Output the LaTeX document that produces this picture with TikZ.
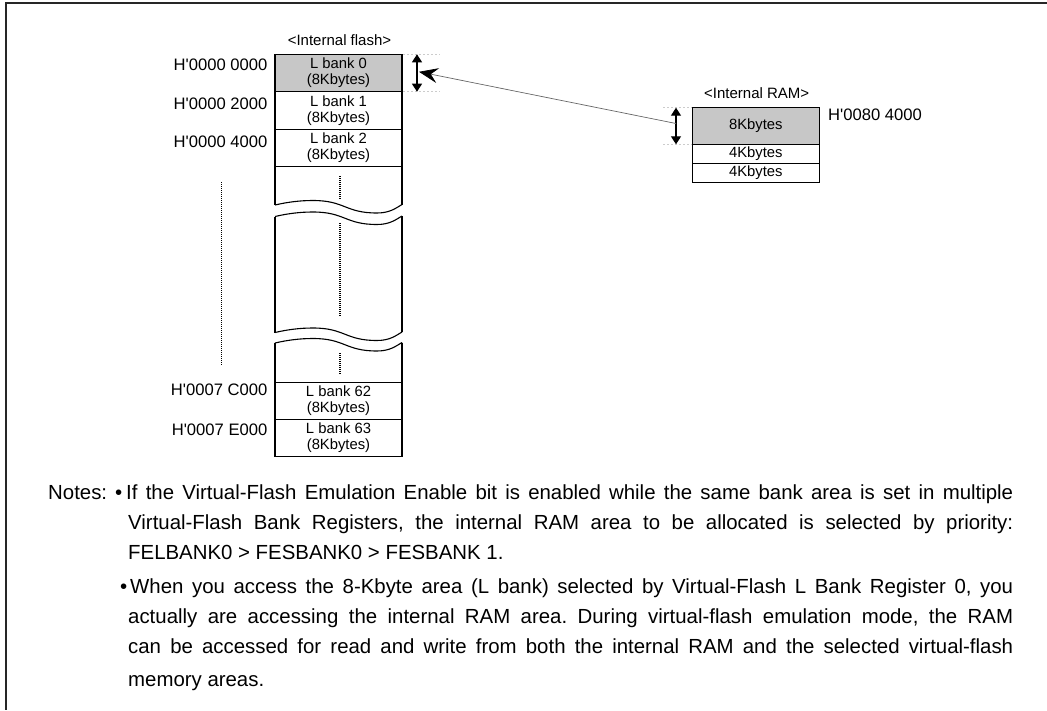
\documentclass[tikz,border=0pt]{standalone}
\usepackage{fontspec}
\setmainfont{Liberation Sans}
\usetikzlibrary{arrows.meta}
\newcommand{\qs}{\textquotesingle}
\frenchspacing
\begin{document}
\begin{tikzpicture}[x=1pt,y=-1pt,
  boxtxt/.style={font=\fontsize{14.8}{16}\selectfont},
  addr/.style={font=\fontsize{16.6}{18}\selectfont,anchor=east,inner sep=0pt},
  title/.style={font=\fontsize{15}{17}\selectfont,inner sep=0pt},
  membox/.style={draw,line width=1.1pt,minimum width=127pt,inner sep=0pt,align=center,boxtxt},
  shaded/.style={fill=black!22},
  guide/.style={draw=black!20,line width=0.6pt,dash pattern=on 2pt off 2pt},
  dbl/.style={line width=1.3pt,{Triangle[length=8pt,width=10pt]}-{Triangle[length=8pt,width=10pt]}},
  dotv/.style={line width=1.1pt,dash pattern=on 1pt off 1pt},
  notes/.style={font=\fontsize{20.4}{22}\selectfont,anchor=base west,inner sep=0pt},
  brkwave/.pic={\draw[line width=1.1pt] (0,0) .. controls (13,-3) and (25,-4.5) .. (38,-4.5) .. controls (70,-4.5) and (70,8) .. (102,8) .. controls (115,8) and (121,3) .. (127,-0.5);}
]
\useasboundingbox (0,0) rectangle (1047,710);
% frame
\draw[line width=1.3pt,black!85] (1047,3) -- (6,3) -- (6,710);

% flash titles
\node[title] (tflash) at (339.5,40) {<Internal flash>};

% flash banks
\node[membox,shaded,minimum height=37.4pt] (b0) at (338.5,73) {L bank 0\\(8Kbytes)};
\node[membox,minimum height=37.4pt] (b1) at (338.5,110.4) {L bank 1\\(8Kbytes)};
\node[membox,minimum height=37.4pt] (b2) at (338.5,147.8) {L bank 2\\(8Kbytes)};
\node[membox,minimum height=37pt] (b62) at (338.5,400.8) {L bank 62\\(8Kbytes)};
\node[membox,minimum height=37pt] (b63) at (338.5,437.8) {L bank 63\\(8Kbytes)};

% broken middle part
\draw[line width=1.1pt] (275,166.5) -- (275,205);
\draw[line width=1.1pt] (402,166.5) -- (402,204.5);
\pic at (275,205) {brkwave};
\pic at (275,216.5) {brkwave};
\draw[line width=1.1pt] (275,216.5) -- (275,332.5);
\draw[line width=1.1pt] (402,216) -- (402,332);
\pic at (275,332.5) {brkwave};
\pic at (275,343) {brkwave};
\draw[line width=1.1pt] (275,343) -- (275,382.3);
\draw[line width=1.1pt] (402,342.5) -- (402,382.3);

% dotted continuation marks
\draw[dotv] (340,176) -- (340,198.5);
\draw[dotv] (340,223) -- (340,317);
\draw[dotv] (340,353) -- (340,373.5);
\draw[dotv] (221.7,182) -- (221.7,365);

% addresses
\node[addr] (a0) at (267.5,65) {H\qs 0000 0000};
\node[addr] (a1) at (267.5,104) {H\qs 0000 2000};
\node[addr] (a2) at (267.5,141.7) {H\qs 0000 4000};
\node[addr] (a62) at (267.5,390) {H\qs 0007 C000};
\node[addr] (a63) at (267.5,429.3) {H\qs 0007 E000};

% internal RAM
\node[title] (tram) at (756.7,93.3) {<Internal RAM>};
\node[membox,shaded,minimum height=36.6pt] (r8) at (755.8,126) {8Kbytes};
\node[membox,minimum height=19pt] (r4a) at (755.8,153.8) {4Kbytes};
\node[membox,minimum height=19pt] (r4b) at (755.8,172.8) {4Kbytes};
\node[addr,anchor=west] (aram) at (828,115) {H\qs 0080 4000};

% guides
\coordinate (g0) at (403,54.3);
\coordinate (g0e) at (440,54.3);
\coordinate (g1) at (403,91.7);
\coordinate (g1e) at (440,91.7);
\draw[guide] (g0) -- (g0e);
\draw[guide] (g1) -- (g1e);
\coordinate (h0) at (663,107.7);
\coordinate (h0e) at (692,107.7);
\coordinate (h1) at (663,144.3);
\coordinate (h1e) at (692,144.3);
\draw[guide] (h0) -- (h0e);
\draw[guide] (h1) -- (h1e);

% double arrows
\coordinate (fa1) at (417,54.3);
\coordinate (fa2) at (417,91.7);
\draw[dbl] (fa1) -- (fa2);
\coordinate (ra1) at (676,107.7);
\coordinate (ra2) at (676,144.3);
\draw[dbl] (ra1) -- (ra2);

% mapping arrow
\coordinate (mstart) at (676,123.5);
\coordinate (mend) at (419,71.8);
\draw[black!60,line width=0.7pt,-{Stealth[length=19pt,width=15pt,inset=7pt,black]}] (mstart) -- (mend);

% notes
\node[notes] (n0) at (48,499) {Notes:};
\node[notes] (n1b) at (115,499) {\textbullet};
\node[notes] (n1a) at (126,499) {\makebox[887pt][s]{If the Virtual-Flash Emulation Enable bit is enabled while the same bank area is set in multiple}};
\node[notes] (n1c) at (128,529) {\makebox[885pt][s]{Virtual-Flash Bank Registers, the internal RAM area to be allocated is selected by priority:}};
\node[notes] (n1d) at (128,559) {FELBANK0 > FESBANK0 > FESBANK 1.};
\node[notes] (n2b) at (120,593) {\textbullet};
\node[notes] (n2a) at (130,593) {\makebox[883pt][s]{When you access the 8-Kbyte area (L bank) selected by Virtual-Flash L Bank Register 0, you}};
\node[notes] (n2c) at (128,623) {\makebox[885pt][s]{actually are accessing the internal RAM area. During virtual-flash emulation mode, the RAM}};
\node[notes] (n2d) at (128,653) {\makebox[885pt][s]{can be accessed for read and write from both the internal RAM and the selected virtual-flash}};
\node[notes] (n2e) at (128,686) {memory areas.};
\end{tikzpicture}
\end{document}
